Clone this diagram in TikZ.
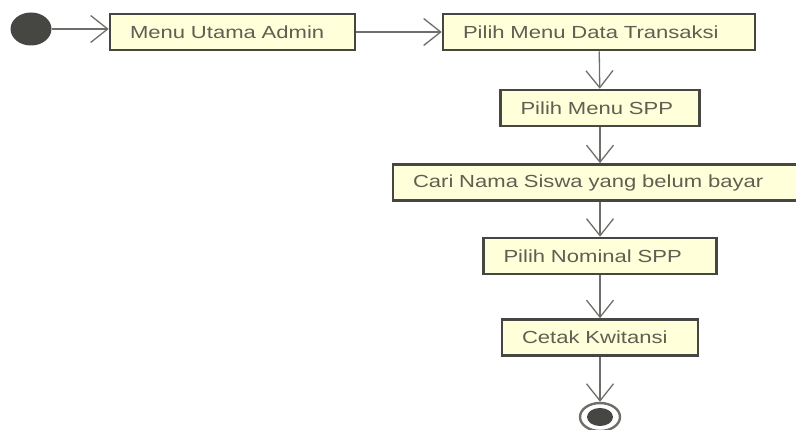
\documentclass[tikz,border=0pt]{standalone}
\usepackage{fontspec}
\setmainfont{Liberation Sans}[FakeStretch=1.26]
\usetikzlibrary{arrows.meta,positioning,shapes.geometric}

\definecolor{isiaksi}{RGB}{255,255,218}
\definecolor{garis}{RGB}{70,70,66}
\definecolor{panah}{RGB}{110,110,106}
\definecolor{teks}{RGB}{95,95,82}

\tikzset{
  aksi/.style={draw=garis,line width=2.6pt,fill=isiaksi,text=teks,
    align=left,inner xsep=20pt,inner ysep=0pt,minimum height=36pt,
    font=\fontsize{17.5}{20}\selectfont},
  alur/.style={draw=panah,line width=1.3pt,-{Straight Barb[length=17pt,width=27pt,line width=1.3pt]}}
}

\begin{document}
\begin{tikzpicture}[x=1pt,y=-1pt]
  \useasboundingbox (0,0) rectangle (796,430);
  % awal dan akhir
  \node [ellipse,fill=garis,minimum width=41pt,minimum height=33pt,inner sep=0pt] (awal) at (31,29) {};
  \node [ellipse,draw=panah,line width=2.4pt,fill=white,minimum width=40pt,minimum height=28pt,inner sep=0pt] (akhir) at (600,417) {};
  \node [ellipse,fill=garis,minimum width=26pt,minimum height=18pt,inner sep=0pt] at (akhir) {};
  % aktivitas
  \node [aksi,text width=205pt] (menu) at (232.5,32) {Menu Utama Admin};
  \node [aksi,text width=272pt] (transaksi) at (599,32) {Pilih Menu Data Transaksi};
  \node [aksi,text width=159pt] (spp) at (600,108) {Pilih Menu SPP};
  \node [aksi,text width=374pt] (cari) at (600,182.5) {Cari Nama Siswa yang belum bayar};
  \node [aksi,text width=193pt] (nominal) at (600,256) {Pilih Nominal SPP};
  \node [aksi,text width=156pt] (cetak) at (600,337.5) {Cetak Kwitansi};
  % alur
  \draw [alur] (awal.east) -- (awal.east -| menu.west);
  \draw [alur] (menu) -- (transaksi);
  \draw [alur] (transaksi) -- (spp);
  \draw [alur] (spp) -- (cari);
  \draw [alur] (cari) -- (nominal);
  \draw [alur] (nominal) -- (cetak);
  \draw [alur] (cetak) -- (akhir);
\end{tikzpicture}
\end{document}
